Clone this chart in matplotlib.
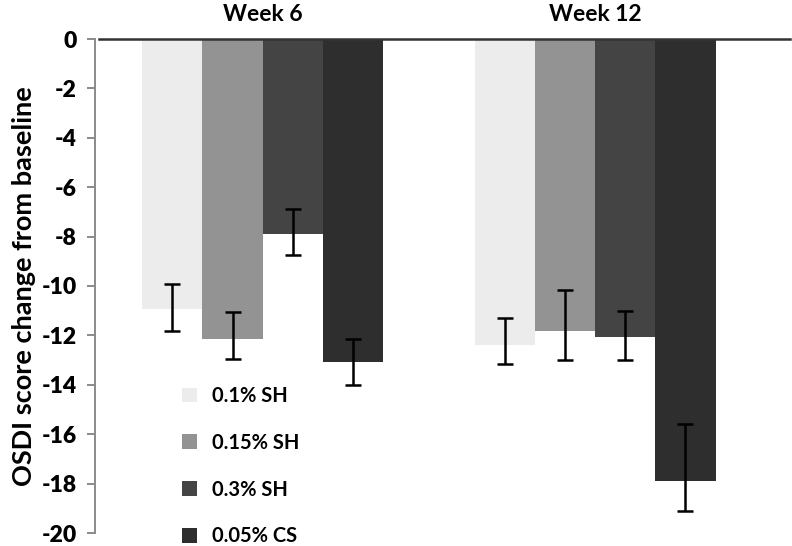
import numpy as np
import matplotlib
matplotlib.use("Agg")
import matplotlib.pyplot as plt
from matplotlib.patches import Patch

weeks = ["Week 6", "Week 12"]
groups = ["0.1% SH", "0.15% SH", "0.3% SH", "0.05% CS"]
colors = ["#ececec", "#939393", "#444444", "#2e2e2e"]

# mean change per group, one list per week
week6 = [-10.95, -12.15, -7.9, -13.07]
week12 = [-12.4, -11.83, -12.08, -17.88]
# error bar extents (top and bottom values of each bar's whisker)
week6_top = [-9.9, -11.04, -6.88, -12.13]
week6_bot = [-11.82, -12.96, -8.73, -14.0]
week12_top = [-11.28, -10.18, -11.03, -15.6]
week12_bot = [-13.15, -12.98, -12.98, -19.1]

plt.rcParams['font.family'] = ['Lato', 'DejaVu Sans']
plt.rcParams['axes.unicode_minus'] = False

fig = plt.figure(figsize=(7.92, 5.46), dpi=100)
ax = fig.add_axes([95 / 792, 1 - 533 / 546, (790 - 95) / 792, (533 - 39) / 546])

means = np.array([week6, week12])
tops = np.array([week6_top, week12_top])
bots = np.array([week6_bot, week12_bot])

x = np.arange(len(weeks))
width = 0.181
for i, name in enumerate(groups):
    pos = x + (i - 1.5) * width
    vals = means[:, i]
    yerr = [vals - bots[:, i], tops[:, i] - vals]
    ax.bar(pos, vals, width, color=colors[i], zorder=2)
    ax.errorbar(pos, vals, yerr=yerr, fmt='none', ecolor='black',
                elinewidth=1.8, capsize=6, capthick=1.8, zorder=3)

ax.set_xlim(-0.504, 1.586)
ax.set_ylim(-20, 0)
ax.set_yticks(np.arange(-20, 1, 2))
ax.set_xticks([])

for sp in ['top', 'right', 'bottom']:
    ax.spines[sp].set_visible(False)
ax.spines['left'].set_color('#8a8a8a')
ax.spines['left'].set_linewidth(1.4)
ax.tick_params(axis='y', length=6, width=1.4, color='#8a8a8a',
               labelsize=16.5, pad=7)
for lab in ax.get_yticklabels():
    lab.set_fontweight('heavy')
ax.axhline(0, xmin=0.006, xmax=1, color='#333333', lw=1.8, zorder=4,
           clip_on=False)

for xi, w in zip(x, weeks):
    ax.text(xi, 0.55, w, ha='center', va='bottom', fontsize=16.5,
            fontweight='bold')

ax.set_ylabel("OSDI score change from baseline", fontsize=19.5,
              fontweight='bold', labelpad=4)

handles = [Patch(facecolor=c, edgecolor='none') for c in colors]
fig.legend(handles, groups, loc='upper left',
           bbox_to_anchor=(182 / 792, 1 - 386 / 546), frameon=False,
           prop={'weight': 'bold', 'size': 14.5}, handlelength=0.75,
           handleheight=0.75, handletextpad=0.75, labelspacing=1.33,
           borderpad=0, borderaxespad=0)

fig.savefig("out.png", dpi=100)
